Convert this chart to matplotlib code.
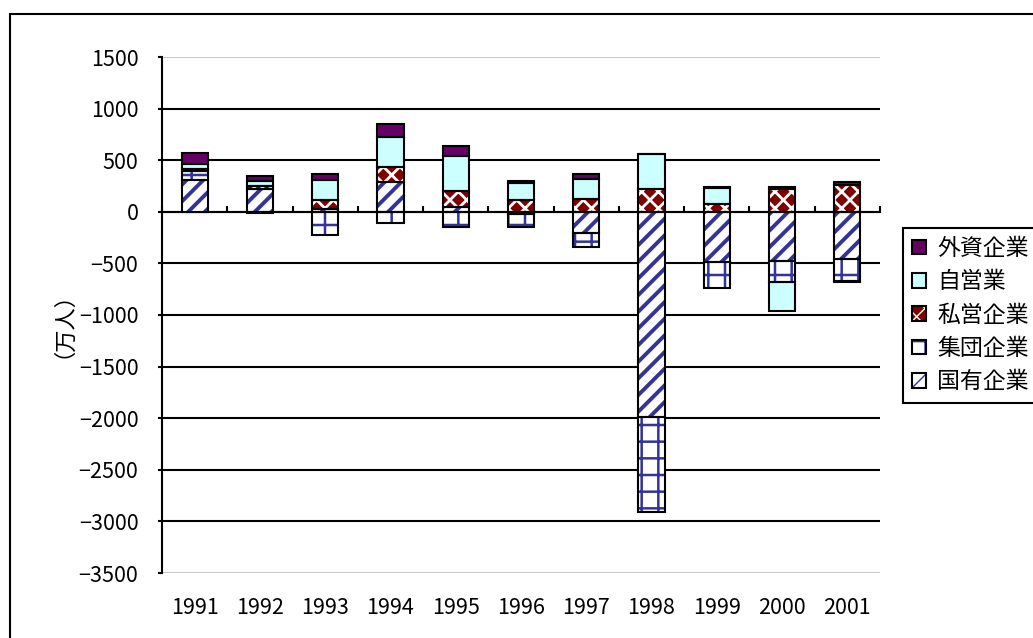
import numpy as np
import matplotlib
matplotlib.use("Agg")
import matplotlib.pyplot as plt
from matplotlib.patches import Patch, Rectangle

plt.rcParams['font.family'] = ['Noto Sans CJK JP', 'DejaVu Sans']

# employment change by ownership type (10k persons)
years = [1991, 1992, 1993, 1994, 1995, 1996, 1997, 1998, 1999, 2000, 2001]
state = [305, 225, 31, 290, 47, -17, -210, -1985, -490, -475, -462]
collective = [90, -7, -228, -110, -145, -135, -130, -925, -250, -210, -210]
private = [15, 25, 88, 145, 150, 118, 120, 223, 80, 220, 262]
self_emp = [50, 50, 185, 290, 340, 162, 200, 340, 155, -278, -5]
foreign = [110, 50, 65, 125, 105, 20, 48, 0, 8, 25, 28]

labels = ['国有企業', '集団企業', '私営企業', '自営業', '外資企業']

# name, values, face colour, hatch colour, hatch, hatch linewidth
series = [
    (labels[0], state, 'white', '#333399', '//', 2.8),
    (labels[1], collective, 'white', '#333399', '+', 1.8),
    (labels[2], private, '#800000', 'white', 'xx', 2.0),
    (labels[3], self_emp, '#ccffff', '#ccffff', '', 1.0),
    (labels[4], foreign, '#660066', '#660066', '', 1.0),
]

W, H = 1033, 638
fig = plt.figure(figsize=(W / 100, H / 100), dpi=100)
ax = fig.add_axes([162 / W, 1 - 573 / H, (880 - 162) / W, (573 - 57) / H])

x = np.arange(len(years))
width = 0.4
pos_base = np.zeros(len(years))
neg_base = np.zeros(len(years))
handles = []
for name, vals, fc, hc, hatch, hlw in series:
    vals = np.array(vals, dtype=float)
    bottom = np.where(vals >= 0, pos_base, neg_base)
    with plt.rc_context({'hatch.linewidth': hlw}):
        ax.bar(x, vals, width, bottom=bottom, facecolor=fc, edgecolor=hc,
               hatch=hatch, linewidth=0, zorder=2)
        h1 = Patch(facecolor=fc, edgecolor=hc, hatch=hatch, linewidth=0)
    ax.bar(x, vals, width, bottom=bottom, facecolor='none', edgecolor='black',
           linewidth=1.5, zorder=3)
    h2 = Patch(facecolor='none', edgecolor='black', linewidth=1.5)
    handles.append((h1, h2))
    pos_base += np.where(vals > 0, vals, 0)
    neg_base += np.where(vals < 0, vals, 0)

ax.set_xlim(-0.5, len(years) - 0.5)
ax.set_ylim(-3500, 1500)
ax.set_yticks(np.arange(-3500, 1501, 500))
ax.yaxis.grid(True, color='black', linewidth=1.5)
ax.set_axisbelow(True)
gls = ax.get_ygridlines()
gls[0].set_color('#c8c8c8')
gls[-1].set_color('#c8c8c8')

ax.spines['top'].set_visible(False)
ax.spines['right'].set_visible(False)
ax.spines['left'].set_linewidth(1.5)
ax.spines['bottom'].set_position(('data', 0))
ax.spines['bottom'].set_linewidth(1.5)

ax.set_xticks(np.arange(-0.5, len(years), 1))
ax.tick_params(axis='x', direction='in', length=4, width=1.5, labelbottom=False)
ax.tick_params(axis='y', direction='out', length=3, width=1.5, pad=14, labelsize=15.5)

for i, yr in enumerate(years):
    ax.text(i, -0.068, str(yr), transform=ax.get_xaxis_transform(),
            ha='center', va='center', fontsize=15.5)

fig.text(52 / W, 1 - 313 / H, '（万人）', rotation=90, ha='center', va='center',
         fontsize=16)

leg = fig.legend(handles[::-1], labels[::-1], loc='upper left',
                 bbox_to_anchor=(903 / W, 1 - 228 / H), bbox_transform=fig.transFigure,
                 fancybox=False, edgecolor='black', framealpha=1, borderpad=0.4,
                 handlelength=0.6, handleheight=0.6, handletextpad=0.5,
                 labelspacing=0.45, fontsize=16.5, borderaxespad=0)
leg.get_frame().set_linewidth(1.5)

# chart area border (runs off the right and bottom edges)
fig.add_artist(Rectangle((10 / W, -0.5), 2, 0.5 + 1 - 14 / H, transform=fig.transFigure,
                         fill=False, edgecolor='black', linewidth=1.5))

fig.savefig('out.png', dpi=100)
